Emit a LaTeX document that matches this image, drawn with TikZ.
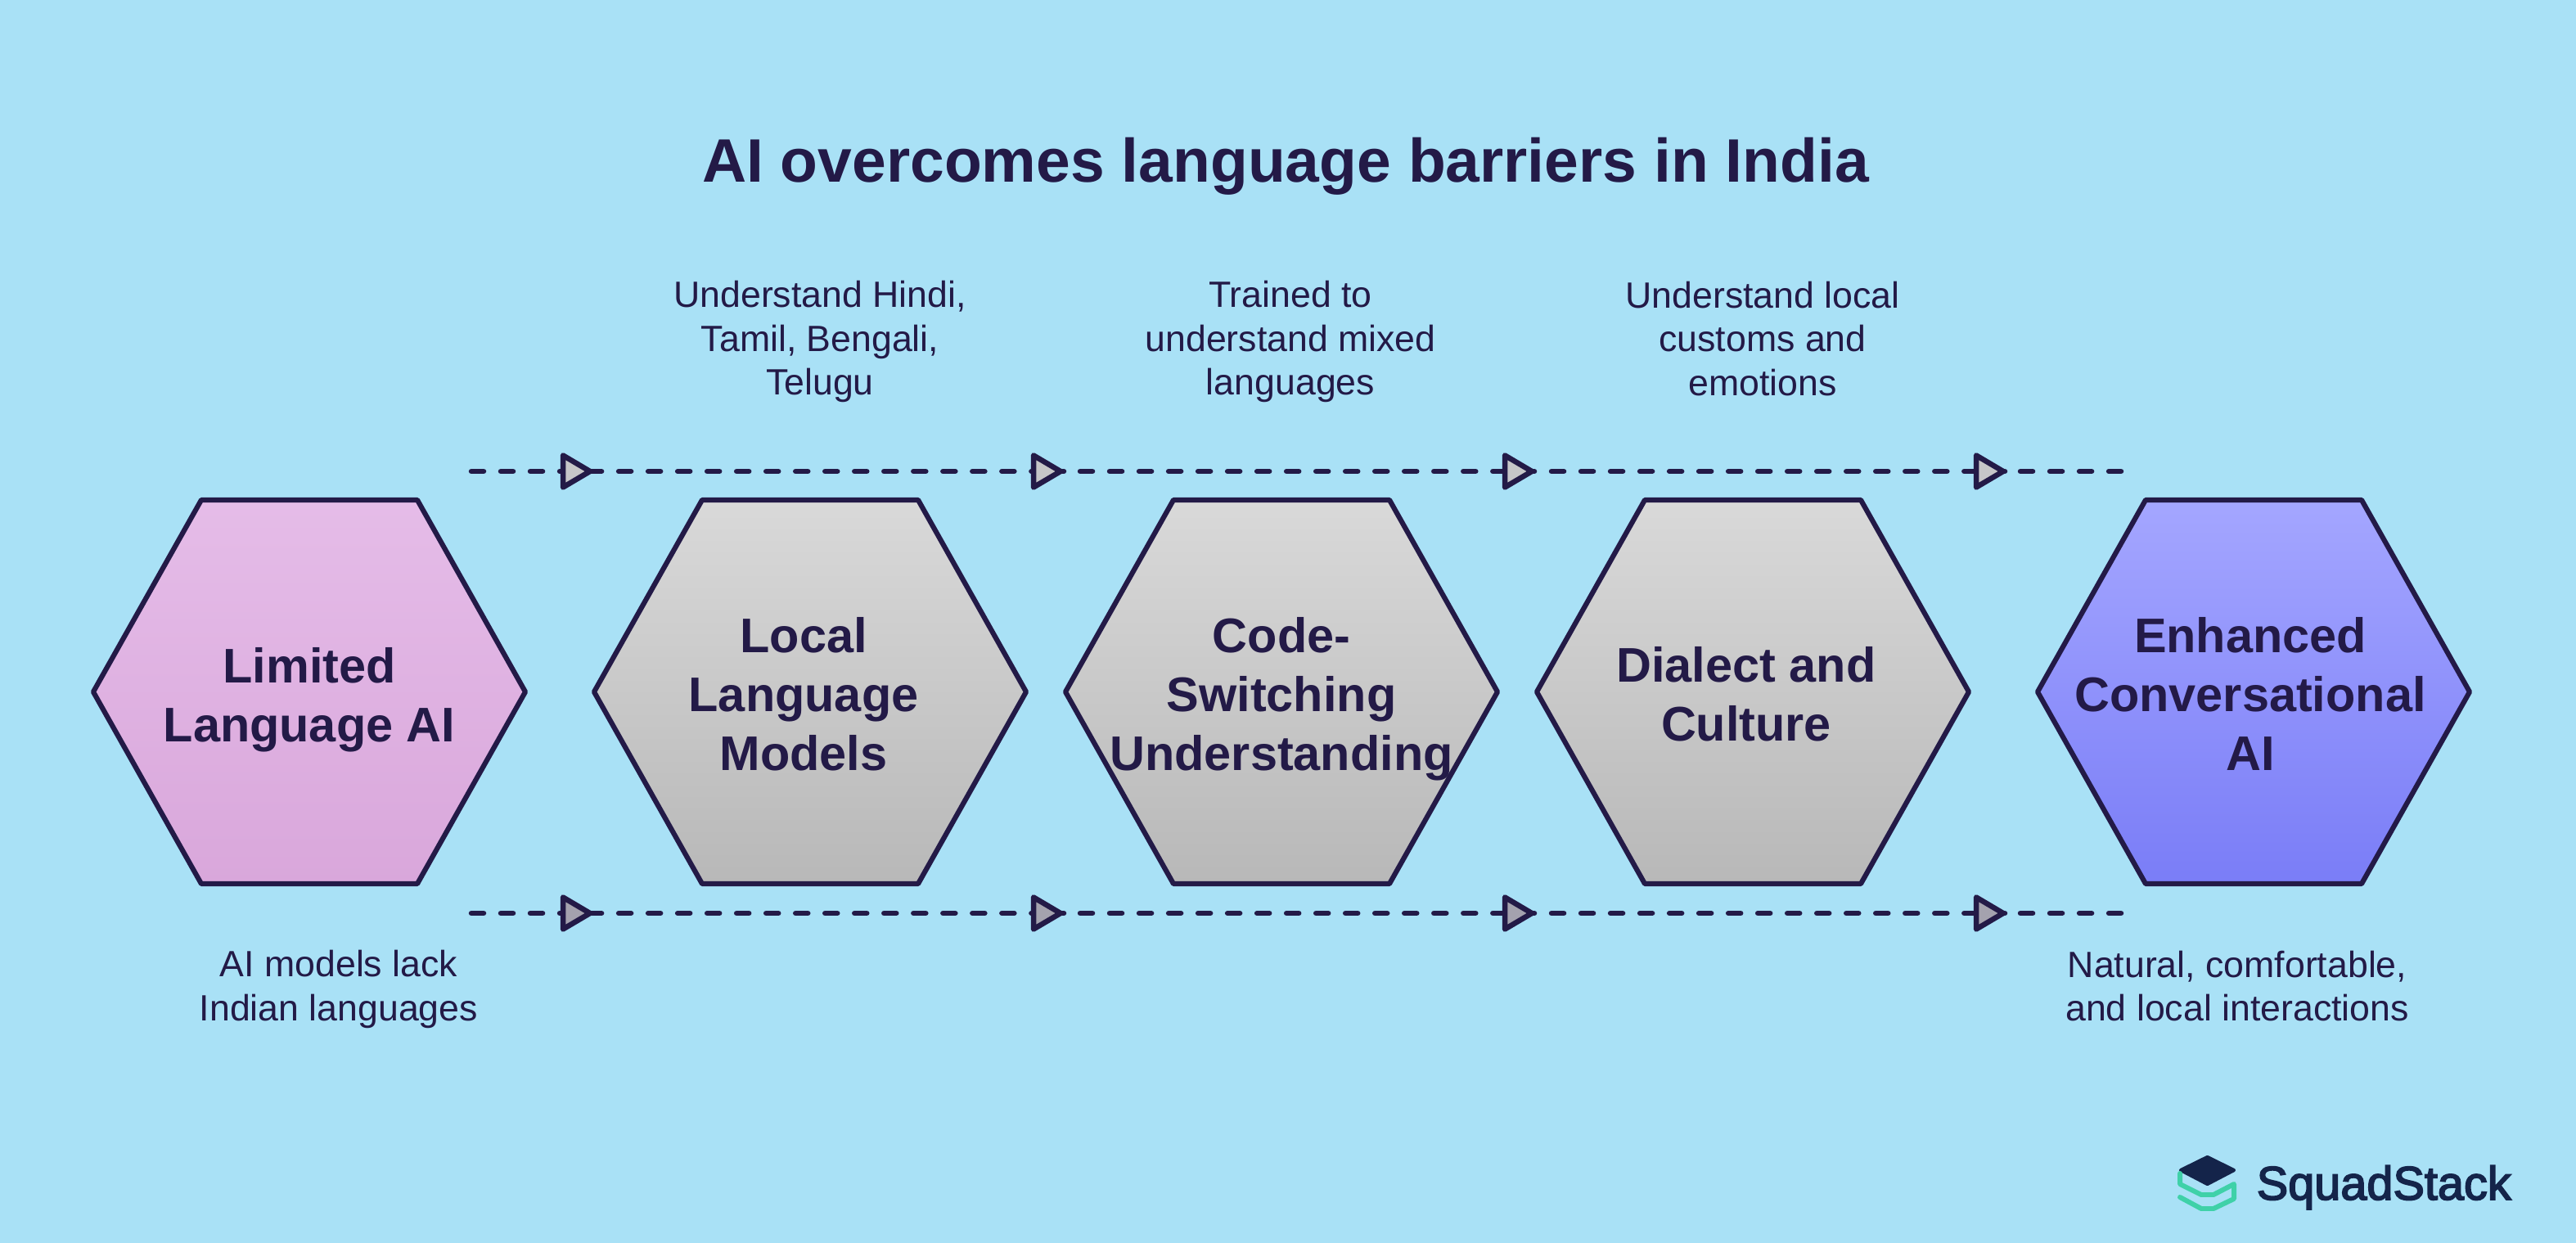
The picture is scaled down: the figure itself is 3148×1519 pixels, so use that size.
\documentclass[tikz,border=0pt]{standalone}
\usepackage{fontspec}
\setmainfont{Liberation Sans}
\newfontfamily\logofont[FakeBold=3]{Liberation Sans}
\definecolor{bgc}{HTML}{A9E1F6}
\definecolor{ink}{HTML}{231A47}
\definecolor{logoink}{HTML}{14244A}
\definecolor{logogreen}{HTML}{3FD1A8}
\definecolor{triA}{HTML}{C6C6C8}
\definecolor{triB}{HTML}{A4A2AE}
\definecolor{pinkT}{HTML}{E5BCE8}
\definecolor{pinkB}{HTML}{D9A7DB}
\definecolor{grayT}{HTML}{D9D9D9}
\definecolor{grayB}{HTML}{B8B8B8}
\definecolor{blueT}{HTML}{A4A6FF}
\definecolor{blueB}{HTML}{7A7DF7}
\tikzset{x=0.01cm,y=-0.01cm,
  hexbox/.style={draw=ink,line width=1.75pt,line join=round},
  hexlabel/.style={text=ink,font=\fontsize{16.9pt}{20.5pt}\selectfont\bfseries,align=center,inner sep=0pt},
  note/.style={text=ink,font=\fontsize{12.7pt}{15.25pt}\selectfont,align=center,inner sep=0pt},
  flowline/.style={draw=ink,line width=1.85pt,line cap=round,dash pattern=on 0.15cm off 0.21cm},
  tri/.style={draw=ink,line width=1.85pt,line join=round,fill=#1}
}
\newcommand{\hexa}[3]{%
  \path[hexbox,top color=#2,bottom color=#3] (#1,845.5) -- ++(132,-234.5) -- ++(264,0) -- ++(132,234.5) -- ++(-132,234.5) -- ++(-264,0) -- cycle;
}
\newcommand{\arrowtri}[3]{\path[tri=#3] (#1,#2-19.5) -- (#1+33,#2) -- (#1,#2+19.5) -- cycle;}
\newcommand{\flowrow}[1]{%
  \coordinate (a1) at (576,#1); \coordinate (b1) at (1300,#1);
  \coordinate (a2) at (1284,#1); \coordinate (b2) at (1874,#1);
  \coordinate (a3) at (1860,#1); \coordinate (b3) at (2450,#1);
  \coordinate (a4) at (2433,#1); \coordinate (b4) at (2592,#1);
  \draw[flowline] (a1) -- (b1);
  \draw[flowline] (a2) -- (b2);
  \draw[flowline] (a3) -- (b3);
  \draw[flowline] (a4) -- (b4);
}
\begin{document}
\begin{tikzpicture}
\useasboundingbox (0,0) rectangle (3148,1519);
\fill[bgc] (0,0) rectangle (3148,1519);
\node[text=ink,font=\fontsize{21.33pt}{26pt}\selectfont\bfseries,inner sep=0pt] (title) at (1571,203) {AI overcomes language barriers in India};
\flowrow{576}
\flowrow{1116}
\arrowtri{688}{576}{triA}
\arrowtri{1263}{576}{triA}
\arrowtri{1839}{576}{triA}
\arrowtri{2415}{576}{triA}
\arrowtri{688}{1116}{triB}
\arrowtri{1263}{1116}{triB}
\arrowtri{1839}{1116}{triB}
\arrowtri{2415}{1116}{triB}
\hexa{114}{pinkT}{pinkB}
\hexa{726}{grayT}{grayB}
\hexa{1302}{grayT}{grayB}
\hexa{1878}{grayT}{grayB}
\hexa{2490}{blueT}{blueB}
\node[hexlabel] (h1) at (378,855) {Limited\\Language AI};
\node[hexlabel] (h2) at (982,848) {Local\\Language\\Models};
\node[hexlabel] (h3) at (1566,854) {Code-\\Switching\\Understanding};
\node[hexlabel] (h4) at (2134,848) {Dialect and\\Culture};
\node[hexlabel] (h5) at (2750,848) {Enhanced\\Conversational\\AI};
\node[note] (n2) at (1002,417.5) {Understand Hindi,\\Tamil, Bengali,\\Telugu};
\node[note] (n3) at (1577,417.5) {Trained to\\understand mixed\\languages};
\node[note] (n4) at (2154,414) {Understand local\\customs and\\emotions};
\node[note] (n1) at (414,1209) {AI models lack\\Indian languages};
\node[note] (n5) at (2734,1205) {Natural, comfortable,\\and local interactions};
\path[fill=logoink,draw=logoink,line width=1.2pt,line join=round] (2665,1430) -- (2697.5,1414) -- (2730,1430) -- (2697.5,1447) -- cycle;
\draw[logogreen,line width=1.7pt,line join=round,line cap=round] (2664,1434) -- (2664,1447) -- (2690,1460) -- (2705,1460) -- (2730,1447) -- (2730,1465) -- (2705,1477) -- (2690,1477) -- (2664,1463);
\node[text=logoink,font=\logofont\fontsize{16.4pt}{20pt}\selectfont,anchor=base west,inner sep=0pt] (logo) at (2757,1466) {SquadStack};
\end{tikzpicture}
\end{document}
